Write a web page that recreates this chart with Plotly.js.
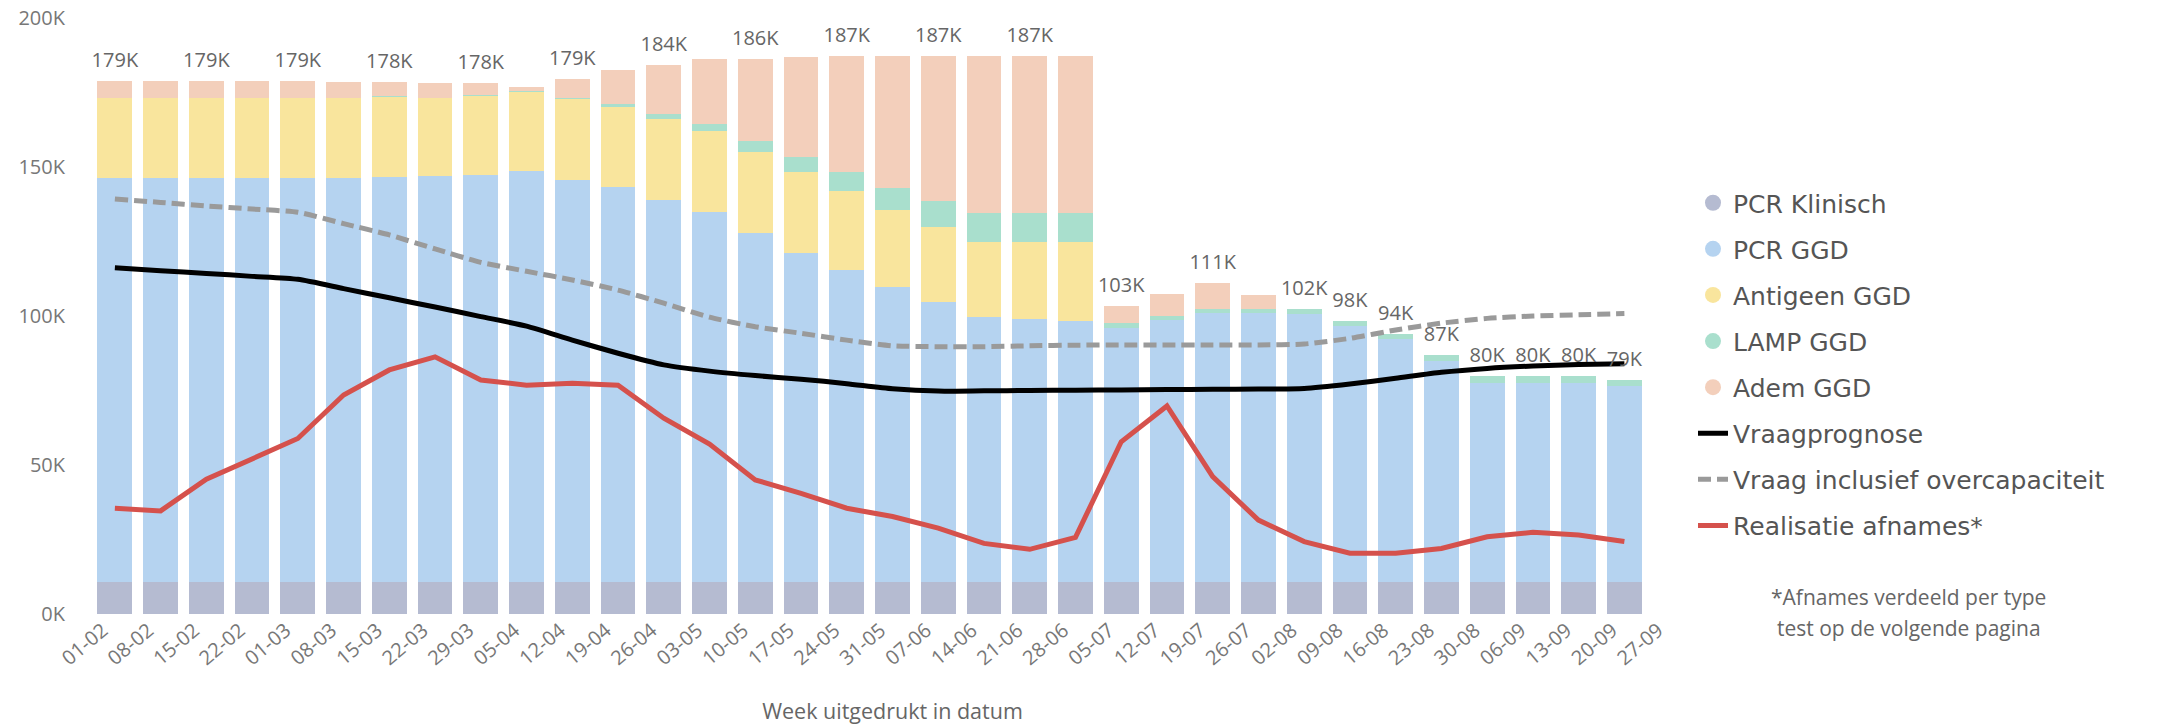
<!DOCTYPE html>
<html>
<head>
<meta charset="utf-8">
<script src="https://cdn.plot.ly/plotly-3.0.1.min.js"></script>
<style>html,body{margin:0;padding:0;background:#fff;}#chart{width:2162px;height:725px;}</style>
</head>
<body>
<div id="chart"></div>
<script>
// Week labels (x categories)
const weeks = ['01-02','08-02','15-02','22-02','01-03','08-03','15-03','22-03','29-03','05-04','12-04','19-04','26-04','03-05','10-05','17-05','24-05','31-05','07-06','14-06','21-06','28-06','05-07','12-07','19-07','26-07','02-08','09-08','16-08','23-08','30-08','06-09','13-09','20-09','27-09'];

// Stacked capacity per test type (thousands)
const pcrKlinisch = [10.6,10.6,10.6,10.6,10.6,10.6,10.6,10.6,10.6,10.6,10.6,10.6,10.6,10.6,10.6,10.6,10.6,10.6,10.6,10.6,10.6,10.6,10.6,10.6,10.6,10.6,10.6,10.6,10.6,10.6,10.6,10.6,10.6,10.6,null];
const pcrGGD = [135.6,135.6,135.6,135.6,135.6,135.6,136.0,136.4,136.7,138.0,135.0,132.6,128.3,124.2,117.4,110.6,104.7,99.1,94.1,89.1,88.4,87.8,85.3,88.1,90.5,90.3,90.2,86.0,81.6,74.4,67.0,67.0,67.0,66.0,null];
const antigeenGGD = [27.1,26.9,27.1,27.1,26.9,26.9,27.0,26.1,26.6,26.6,27.2,27.0,27.1,27.3,27.1,27.2,26.6,25.9,25.3,25.0,25.7,26.3,0,0,0,0,0,0,0,0,0,0,0,0,null];
const lampGGD = [0,0,0,0,0,0.2,0.2,0.2,0.3,0.3,0.3,0.8,1.8,2.3,3.7,5.1,6.3,7.2,8.7,9.8,9.8,9.8,1.7,1.3,1.2,1.4,1.5,1.8,1.8,1.9,2.3,2.3,2.3,2.0,null];
const ademGGD = [5.7,5.9,5.7,5.7,5.9,5.2,4.6,5.0,3.9,1.4,6.3,11.6,16.5,21.9,27.6,33.5,39.1,44.5,48.6,52.8,52.8,52.8,5.8,7.4,8.9,4.7,0,0,0,0,0,0,0,0,null];

// Total labels as shown above the bars
const totalLabels = ['179K','','179K','','179K','','178K','','178K','','179K','','184K','','186K','','187K','','187K','','187K','','103K','','111K','','102K','98K','94K','87K','80K','80K','80K','79K',''];

// Lines (thousands)
const vraagprognose = [116.2,115.2,114.3,113.3,112.3,109.2,106.1,103.0,99.8,96.6,91.9,87.5,83.6,81.5,80.0,78.8,77.3,75.6,74.8,74.9,75.0,75.1,75.2,75.3,75.4,75.5,75.7,77.2,79.1,81.1,82.4,83.2,83.7,84.0,null];
const vraagOver = [139.3,138.1,136.9,135.9,134.8,131.0,127.2,122.5,118.0,115.0,112.1,108.7,104.3,99.6,96.4,94.2,91.9,90.0,89.7,89.7,90.0,90.2,90.3,90.3,90.3,90.3,90.6,92.5,95.3,97.6,99.2,100.0,100.4,100.8,null];
const realisatie = [35.5,34.6,45.2,52.2,58.9,73.5,81.9,86.3,78.5,76.8,77.4,76.8,65.7,57.0,45.0,40.5,35.5,32.7,28.8,23.7,21.7,25.7,57.8,69.8,46.1,31.5,24.3,20.4,20.4,22.0,25.9,27.4,26.5,24.3,null];

const yTickVals = [0,50,100,150,200];
const yTickText = ['0K','50K','100K','150K','200K'];

const barSeries = [
  {name:'PCR Klinisch', y:pcrKlinisch, color:'#b5bbd1'},
  {name:'PCR GGD', y:pcrGGD, color:'#b5d3f0'},
  {name:'Antigeen GGD', y:antigeenGGD, color:'#f9e59d'},
  {name:'LAMP GGD', y:lampGGD, color:'#a9dfcd'},
  {name:'Adem GGD', y:ademGGD, color:'#f3cfbb'}
];

const totals = weeks.map((w,i)=> barSeries.reduce((s,b)=> s + (b.y[i]||0), 0));
const labelLift = 3.0; // small lift so the total labels float above the bars
const labelY = totals.map(t => t + labelLift);

const traces = [];
// legend proxies (circle markers)
barSeries.forEach((b,k)=>{
  traces.push({type:'scatter', mode:'markers', x:[null], y:[null], name:b.name,
    marker:{symbol:'circle', size:16, color:b.color}, legendgroup:'g'+k, hoverinfo:'skip'});
});
barSeries.forEach((b,k)=>{
  traces.push({type:'bar', x:weeks, y:b.y, name:b.name, marker:{color:b.color, line:{width:0}},
    showlegend:false, legendgroup:'g'+k});
});
traces.push({type:'scatter', mode:'lines', x:weeks, y:vraagprognose, name:'Vraagprognose',
  line:{color:'#000000', width:5, shape:'spline', smoothing:0.6}, legendgroup:'g5'});
traces.push({type:'scatter', mode:'lines', x:weeks, y:vraagOver, name:'Vraag inclusief overcapaciteit',
  line:{color:'#9a9a9a', width:5, dash:'13px,6px', shape:'spline', smoothing:0.6}, legendgroup:'g6'});
traces.push({type:'scatter', mode:'lines', x:weeks, y:realisatie, name:'Realisatie afnames*',
  line:{color:'#d5514c', width:5}, legendgroup:'g7'});
traces.push({type:'scatter', mode:'text', x:weeks, y:labelY, text:totalLabels, textposition:'top center',
  textfont:{family:'Open Sans', size:20, color:'#666666'}, showlegend:false, cliponaxis:false, hoverinfo:'skip'});

const layout = {
  width:2162, height:725,
  margin:{l:92, r:458, t:18, b:111},
  paper_bgcolor:'#ffffff', plot_bgcolor:'#ffffff',
  barmode:'stack', bargap:0.24,
  font:{family:'Open Sans', color:'#666666'},
  showlegend:true,
  legend:{xref:'container', yref:'container', x:1693/2162, xanchor:'left', y:1-180/725, yanchor:'top',
    font:{family:'DejaVu Sans', size:25, color:'#555555'}, traceorder:'grouped', tracegroupgap:10.6,
    bgcolor:'rgba(0,0,0,0)'},
  xaxis:{type:'category', range:[-0.5,34.5], tickangle:-40, showgrid:false, zeroline:false, showline:false, ticks:'',
    tickfont:{family:'Open Sans', size:20, color:'#777777'}, automargin:false, ticklabelshift:-12,
    title:{text:'Week uitgedrukt in datum', font:{family:'Open Sans', size:21.5, color:'#666666'}, standoff:34}},
  yaxis:{range:[0,200], tickmode:'array', tickvals:yTickVals, ticktext:yTickText, showgrid:false, zeroline:false, showline:false, ticks:'',
    tickfont:{family:'Open Sans', size:20, color:'#777777'}, automargin:false, ticklabelstandoff:26},
  annotations:[
    {xref:'paper', yref:'paper', x:(1921-92)/1612, y:(614-597)/596, xanchor:'center', yanchor:'middle',
      text:'*Afnames verdeeld per type', showarrow:false, font:{family:'Open Sans', size:21, color:'#666666'}},
    {xref:'paper', yref:'paper', x:(1921-92)/1612, y:(614-628)/596, xanchor:'center', yanchor:'middle',
      text:'test op de volgende pagina', showarrow:false, font:{family:'Open Sans', size:21, color:'#666666'}}
  ]
};

Plotly.newPlot('chart', traces, layout, {displayModeBar:false, staticPlot:true});
</script>
</body>
</html>
